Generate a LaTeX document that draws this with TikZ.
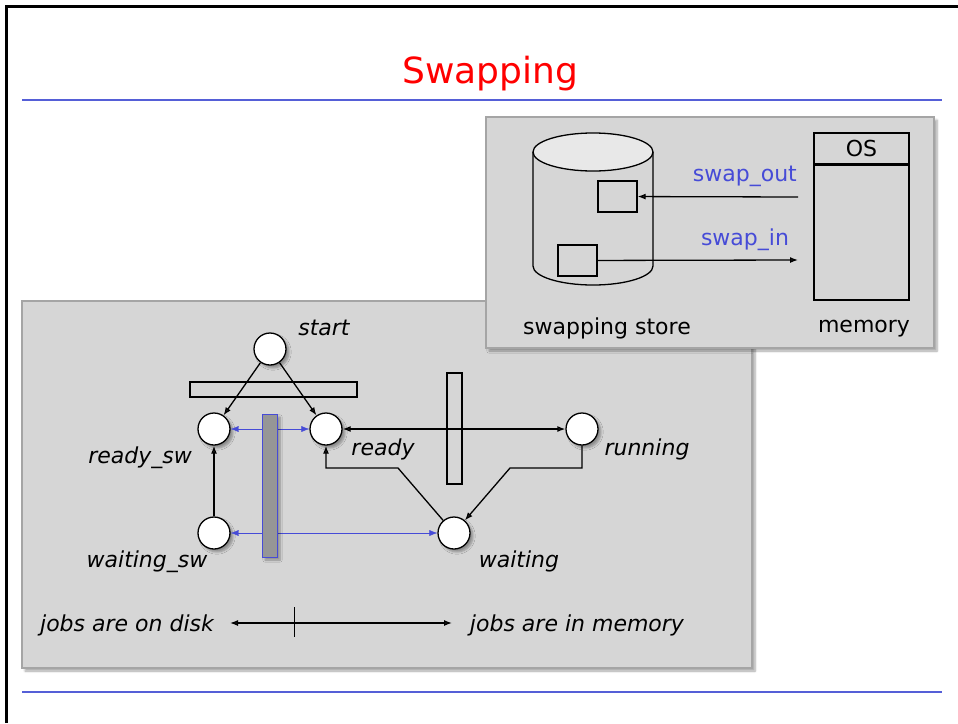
\documentclass[tikz,border=0pt]{standalone}
\usepackage{fontspec}
\setmainfont{DejaVu Sans}
\usetikzlibrary{arrows.meta,shadows.blur}

\definecolor{panelgray}{RGB}{214,214,214}
\definecolor{framegray}{RGB}{165,165,165}
\definecolor{topgray}{RGB}{232,232,232}
\definecolor{bargray}{RGB}{150,150,150}
\definecolor{swapblue}{RGB}{70,75,215}
\definecolor{ruleblue}{RGB}{85,95,215}

\tikzset{%
  % Specifications for style of nodes:
         thick/.style =   { line width=1.3pt },
         shade/.style =   { blur shadow={shadow xshift=3pt, shadow yshift=-3pt, shadow blur steps=6, shadow opacity=35} },
         panel/.style =   { draw=framegray, fill=panelgray, thick, shade },
         place/.style =   { circle, draw=black, fill=white, thick, minimum size=32pt, inner sep=0pt, shade },
         bar/.style =     { rectangle, draw=black, thick, inner sep=0pt },
         diskbar/.style = { rectangle, draw=swapblue, fill=bargray, inner sep=0pt, shade },
         box/.style =     { rectangle, draw=black, thick, inner sep=0pt },
         lbl/.style =     { font=\fontsize{22}{26}\selectfont\itshape, inner sep=0pt },
         txt/.style =     { font=\fontsize{22}{26}\selectfont, inner sep=0pt },
}

\begin{document}
\begin{tikzpicture}[x=1pt, y=-1pt, >={Latex[length=8pt,width=6pt]}]
    \useasboundingbox (0,0) rectangle (958,723);

    % Slide frame and title
    \draw[line width=3pt] (6,723) -- (6,6) -- (958,6);
    \node (title) [font=\fontsize{36}{40}\selectfont, text=red] at (490,74) {Swapping};
    \draw[ruleblue, line width=2pt] (22,100) -- (942,100);
    \draw[ruleblue, line width=2pt] (22,692) -- (942,692);

    % Panels
    \path[panel] (22,301) rectangle (752,668);
    \path[panel] (486,117) rectangle (934,348);

    % Swapping store and memory
    \draw[thick, fill=panelgray] (533,152) -- (533,266) arc[start angle=180, end angle=0, x radius=60, y radius=19] -- (653,152);
    \draw[thick, fill=topgray] (593,152) ellipse[x radius=60, y radius=19];
    \node (outbox)  [box, minimum width=39pt, minimum height=31pt] at (617.5,196.5) {};
    \node (inbox)   [box, minimum width=39pt, minimum height=31pt] at (577.5,260.5) {};
    \node (memory)  [box, fill=panelgray, minimum width=95pt, minimum height=167pt] at (861.5,216.5) {};
    \node (os)      [box, txt, minimum width=95pt, minimum height=31pt, anchor=north] at (memory.north) {OS};
    \draw[line width=2.2pt] (os.south west) -- (os.south east);
    \coordinate (outsrc) at (798,197);
    \coordinate (indst)  at (798,260);
    \node (swapout) [txt, text=swapblue, anchor=east] at (797,176) {swap\_out};
    \node (swapin)  [txt, text=swapblue] at (745,240) {swap\_in};
    \node (store)   [txt] at (607,328) {swapping store};
    \node (memlbl)  [txt] at (864,329) {memory};
    \draw[->,thick] (outsrc) -- (outbox);
    \draw[->,thick] (inbox) -- (indst);

    % Draw nodes
    \node (startbar)  [bar, minimum width=167pt, minimum height=15pt] at (273.5,389.5) {};
    \node (runbar)    [bar, minimum width=15pt, minimum height=111pt] at (454.5,428.5) {};
    \node (start)     [place] at (270,349) {};
    \node (readysw)   [place] at (214,429) {};
    \node (ready)     [place] at (326,429) {};
    \node (running)   [place] at (582,429) {};
    \node (waitingsw) [place] at (214,533) {};
    \node (waiting)   [place] at (454,533) {};

    \node (startlbl)     [lbl] at (324,328) {start};
    \node (readyswlbl)   [lbl] at (140,458) {ready\_sw};
    \node (readylbl)     [lbl] at (383,449) {ready};
    \node (runninglbl)   [lbl] at (647,449) {running};
    \node (waitingswlbl) [lbl] at (147,562) {waiting\_sw};
    \node (waitinglbl)   [lbl] at (519,561) {waiting};

    % Draw arrows
    \draw[->,thick]           (start) -- (readysw);
    \draw[->,thick]           (start) -- (ready);
    \draw[->,thick]           (waitingsw) -- (readysw);
    \draw[<->,thick]          (ready) -- (running);
    \draw[->,thick]           (waiting) -- (398,468) -| (ready);
    \draw[->,thick]           (running) |- (510,468) -- (waiting);
    \draw[<->,swapblue]       (readysw) -- (ready);
    \draw[<->,swapblue]       (waitingsw) -- (waiting);

    \node (swapbar) [diskbar, minimum width=15pt, minimum height=143pt] at (269.5,485.5) {};

    % Disk / memory divide
    \node (disk)  [lbl] at (127,625) {jobs are on disk};
    \node (inmem) [lbl] at (577,625) {jobs are in memory};
    \coordinate (diskend) at (230,623);
    \coordinate (memend)  at (452,623);
    \draw[<->,thick] (diskend) -- (memend);
    \draw (294,607) -- (294,637);
\end{tikzpicture}
\end{document}
